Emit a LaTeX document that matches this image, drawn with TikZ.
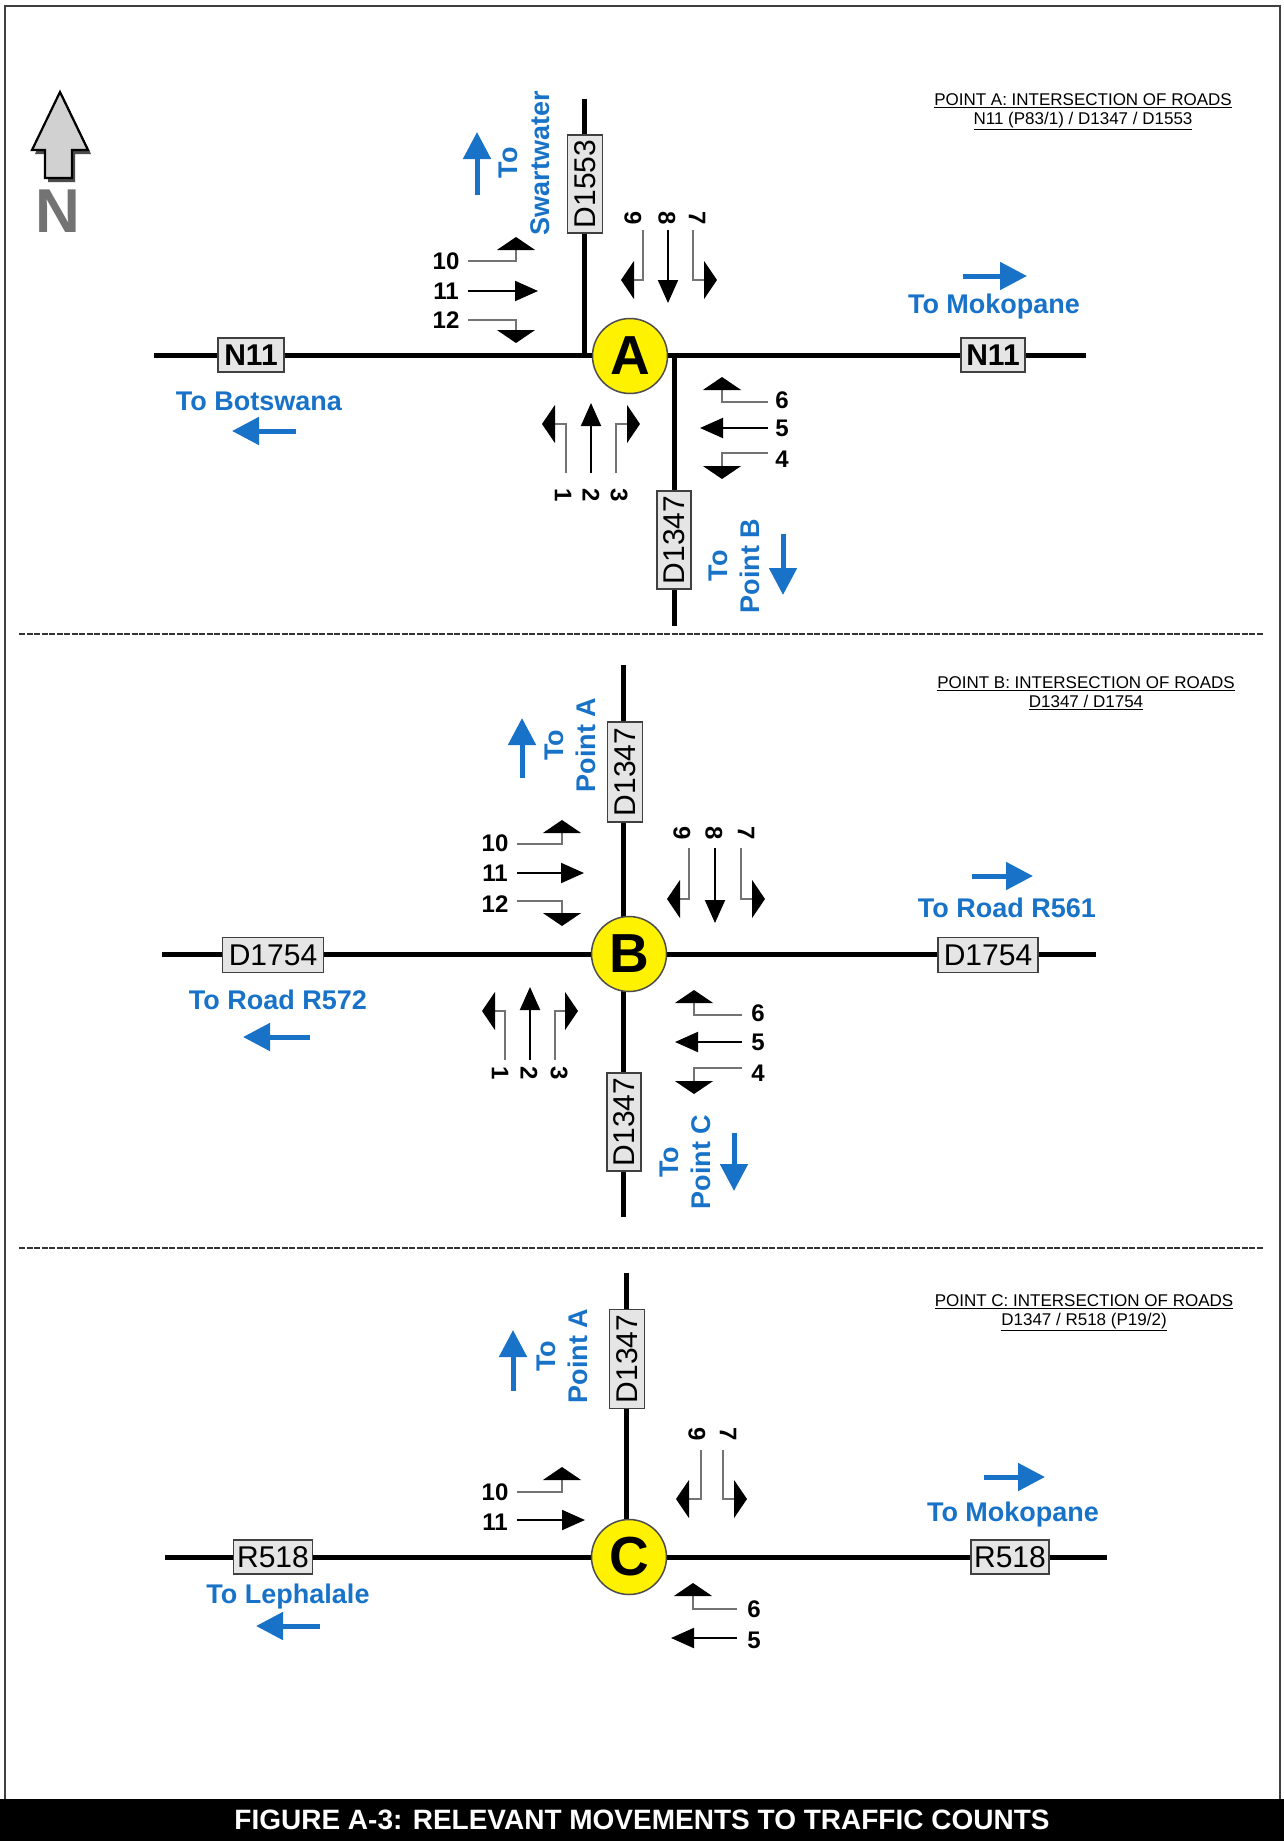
\documentclass[tikz,border=0pt]{standalone}
\usepackage{fontspec}
\setmainfont{Liberation Sans}
\usetikzlibrary{arrows.meta}
\definecolor{lblue}{RGB}{24,115,200}
\newcommand{\myfs}[1]{\fontsize{#1}{#1}\selectfont}
\tikzset{
  road/.style={line width=5pt, black},
  roadlbl/.style={draw=black!75, fill=black!10, line width=1.5pt, inner sep=0pt, font=\myfs{30}},
  junc/.style={circle, draw=black!70, fill=yellow, line width=1.5pt, minimum size=75pt, inner sep=0pt, font=\bfseries\myfs{55}},
  mvnum/.style={font=\bfseries\myfs{24}, inner sep=0pt},
  thru/.style={line width=2pt, black, -{Triangle[length=23pt,width=20pt]}},
  turn/.style={line width=1.3pt, black!55, -{Triangle[length=13pt,width=38pt,color=black]}},
  dir/.style={text=lblue, font=\bfseries\myfs{27}, inner sep=0pt},
  dirv/.style={text=lblue, font=\bfseries\fontsize{27}{32}\selectfont, inner sep=0pt, rotate=90, align=center},
  dirarrow/.style={lblue, line width=5pt, -{Triangle[length=27pt,width=27pt]}},
  hdr/.style={font=\fontsize{17}{19}\selectfont, align=center, inner sep=0pt},
  sep/.style={line width=2pt, black!80, dash pattern=on 6pt off 1.5pt}
}
\begin{document}
\begin{tikzpicture}[x=1pt,y=-1pt]
\useasboundingbox (0,0) rectangle (1284,1841);
\fill[white] (0,0) rectangle (1284,1841);
% frame and title bar
\draw[line width=2pt, black!75] (5,6) rectangle (1280,1800);
\fill[black] (0,1799) rectangle (1284,1841);
\node[font=\bfseries\myfs{28}, text=white, inner sep=0pt] (title) at (642,1820) {FIGURE A-3: RELEVANT MOVEMENTS TO TRAFFIC COUNTS};
% separators
\coordinate (s1a) at (19,634); \coordinate (s1b) at (1264,634);
\coordinate (s2a) at (19,1248); \coordinate (s2b) at (1264,1248);
\draw[sep] (s1a) -- (s1b);
\draw[sep] (s2a) -- (s2b);
% north arrow
\fill[black!70] (63,96) -- (91,154) -- (75,154) -- (75,182) -- (48,182) -- (48,154) -- (35,154) -- cycle;
\draw[fill=black!18, line width=2.2pt, line join=miter] (60,92) -- (88,150) -- (72,150) -- (72,178) -- (45,178) -- (45,150) -- (32,150) -- cycle;
\node[font=\bfseries\myfs{62}, text=black!55, inner sep=0pt] (north) at (58,211) {N};

% ================= POINT A =================
\node[hdr] (Ahdr) at (1083,112) {\underline{POINT A: INTERSECTION OF ROADS}\\\underline{N11 (P83/1) / D1347 / D1553}};
\coordinate (Aw) at (154,355); \coordinate (Ae) at (1086,355);
\coordinate (An) at (584,99);  \coordinate (Anj) at (584,355);
\coordinate (As) at (674,626); \coordinate (Asj) at (674,355);
\draw[road] (Aw) -- (Ae);
\draw[road] (An) -- (Anj);
\draw[road] (Asj) -- (As);
\node[roadlbl, font=\bfseries\myfs{30}, minimum width=66pt, minimum height=34pt] (AN11w) at (251,355) {N11};
\node[roadlbl, font=\bfseries\myfs{30}, minimum width=64pt, minimum height=34pt] (AN11e) at (993,355) {N11};
\node[roadlbl, rotate=90, minimum width=98pt, minimum height=35pt] (AD1553) at (585,184) {D1553};
\node[roadlbl, rotate=90, minimum width=98pt, minimum height=34pt] (AD1347) at (674,540) {D1347};
\node[junc] (A) at (630,356) {A};
% directions
\node[dir] (AtoBot) at (259,401) {To Botswana};
\draw[dirarrow] (296,431) -- (232,431);
\node[dir] (AtoMok) at (994,307) {To Mokopane};
\draw[dirarrow] (963,276) -- (1027,276);
\node[dirv] (AtoSw) at (524,163) {To\\Swartwater};
\draw[dirarrow] (477,195) -- (477,132);
\node[dirv] (AtoB) at (734,566) {To\\Point B};
\draw[dirarrow] (783,534) -- (783,595);
% movements west
\node[mvnum] (A10) at (446,261) {10};
\node[mvnum] (A11) at (446,291) {11};
\node[mvnum] (A12) at (446,320) {12};
\draw[turn] (468,261) -- (516,261) -- (516,237);
\draw[thru] (468,291) -- (538,291);
\draw[turn] (468,320) -- (516,320) -- (516,343);
% movements north
\node[mvnum, rotate=-90] (A9) at (633,218) {9};
\node[mvnum, rotate=-90] (A8) at (667,218) {8};
\node[mvnum, rotate=-90] (A7) at (697,218) {7};
\draw[turn] (643,230) -- (643,280) -- (621,280);
\draw[thru] (668,230) -- (668,303);
\draw[turn] (693,230) -- (693,280) -- (717,280);
% movements east
\node[mvnum] (A6) at (782,400) {6};
\node[mvnum] (A5) at (782,428) {5};
\node[mvnum] (A4) at (782,459) {4};
\draw[turn] (768,402) -- (722,402) -- (722,377);
\draw[thru] (768,428) -- (700,428);
\draw[turn] (768,453) -- (722,453) -- (722,479);
% movements south
\node[mvnum, rotate=-90] (A1) at (563,495) {1};
\node[mvnum, rotate=-90] (A2) at (591,495) {2};
\node[mvnum, rotate=-90] (A3) at (619,495) {3};
\draw[turn] (566,473) -- (566,424) -- (542,424);
\draw[thru] (591,473) -- (591,403);
\draw[turn] (616,473) -- (616,424) -- (640,424);

% ================= POINT B =================
\node[hdr] (Bhdr) at (1086,693) {\underline{POINT B: INTERSECTION OF ROADS}\\\underline{D1347 / D1754}};
\coordinate (Bw) at (162,954); \coordinate (Be) at (1096,954);
\coordinate (Bn) at (623,665); \coordinate (Bs) at (623,1217);
\draw[road] (Bw) -- (Be);
\draw[road] (Bn) -- (Bs);
\node[roadlbl, minimum width=101pt, minimum height=35pt] (BD1754w) at (273,955) {D1754};
\node[roadlbl, minimum width=100pt, minimum height=35pt] (BD1754e) at (988,955) {D1754};
\node[roadlbl, rotate=90, minimum width=100pt, minimum height=35pt] (BD1347n) at (625,772) {D1347};
\node[roadlbl, rotate=90, minimum width=98pt, minimum height=34pt] (BD1347s) at (624,1122) {D1347};
\node[junc] (B) at (629,954) {B};
% directions
\node[dir] (BtoR561) at (1007,908) {To Road R561};
\draw[dirarrow] (972,876) -- (1033,876);
\node[dir] (BtoR572) at (278,1000) {To Road R572};
\draw[dirarrow] (310,1037) -- (243,1037);
\node[dirv] (BtoA) at (570,745) {To\\Point A};
\draw[dirarrow] (522,778) -- (522,718);
\node[dirv] (BtoC) at (685,1162) {To\\Point C};
\draw[dirarrow] (734,1133) -- (734,1191);
% movements west
\node[mvnum] (B10) at (495,843) {10};
\node[mvnum] (B11) at (495,873) {11};
\node[mvnum] (B12) at (495,904) {12};
\draw[turn] (517,844) -- (562,844) -- (562,820);
\draw[thru] (517,873) -- (584,873);
\draw[turn] (517,901) -- (562,901) -- (562,926);
% movements north
\node[mvnum, rotate=-90] (B9) at (682,833) {9};
\node[mvnum, rotate=-90] (B8) at (714,833) {8};
\node[mvnum, rotate=-90] (B7) at (746,833) {7};
\draw[turn] (689,848) -- (689,899) -- (667,899);
\draw[thru] (715,848) -- (715,923);
\draw[turn] (741,848) -- (741,899) -- (765,899);
% movements east
\node[mvnum] (B6) at (758,1013) {6};
\node[mvnum] (B5) at (758,1042) {5};
\node[mvnum] (B4) at (758,1073) {4};
\draw[turn] (742,1015) -- (694,1015) -- (694,990);
\draw[thru] (742,1042) -- (675,1042);
\draw[turn] (742,1068) -- (694,1068) -- (694,1094);
% movements south
\node[mvnum, rotate=-90] (B1) at (500,1073) {1};
\node[mvnum, rotate=-90] (B2) at (529,1073) {2};
\node[mvnum, rotate=-90] (B3) at (559,1073) {3};
\draw[turn] (505,1060) -- (505,1011) -- (482,1011);
\draw[thru] (530,1060) -- (530,987);
\draw[turn] (555,1060) -- (555,1011) -- (578,1011);

% ================= POINT C =================
\node[hdr] (Chdr) at (1084,1313) {\underline{POINT C: INTERSECTION OF ROADS}\\\underline{D1347 / R518 (P19/2)}};
\coordinate (Cw) at (165,1557); \coordinate (Ce) at (1107,1557);
\coordinate (Cn) at (626,1273); \coordinate (Cnj) at (626,1557);
\draw[road] (Cw) -- (Ce);
\draw[road] (Cn) -- (Cnj);
\node[roadlbl, minimum width=79pt, minimum height=34pt] (CR518w) at (273,1557) {R518};
\node[roadlbl, minimum width=78pt, minimum height=34pt] (CR518e) at (1010,1557) {R518};
\node[roadlbl, rotate=90, minimum width=99pt, minimum height=35pt] (CD1347) at (627,1359) {D1347};
\node[junc] (C) at (629,1557) {C};
% directions
\node[dir] (CtoLep) at (288,1596) {To Lephalale};
\draw[dirarrow] (320,1626) -- (256,1626);
\node[dir] (CtoMok) at (1013,1515) {To Mokopane};
\draw[dirarrow] (984,1477) -- (1045,1477);
\node[dirv] (CtoA) at (562,1356) {To\\Point A};
\draw[dirarrow] (513,1391) -- (513,1330);
% movements west
\node[mvnum] (C10) at (495,1492) {10};
\node[mvnum] (C11) at (495,1522) {11};
\draw[turn] (517,1492) -- (562,1492) -- (562,1467);
\draw[thru] (517,1520) -- (585,1520);
% movements north
\node[mvnum, rotate=-90] (C9) at (697,1434) {9};
\node[mvnum, rotate=-90] (C7) at (728,1434) {7};
\draw[turn] (701,1450) -- (701,1499) -- (676,1499);
\draw[turn] (723,1450) -- (723,1499) -- (747,1499);
% movements east
\node[mvnum] (C6) at (754,1609) {6};
\node[mvnum] (C5) at (754,1640) {5};
\draw[turn] (737,1609) -- (693,1609) -- (693,1583);
\draw[thru] (737,1638) -- (671,1638);
\end{tikzpicture}
\end{document}
